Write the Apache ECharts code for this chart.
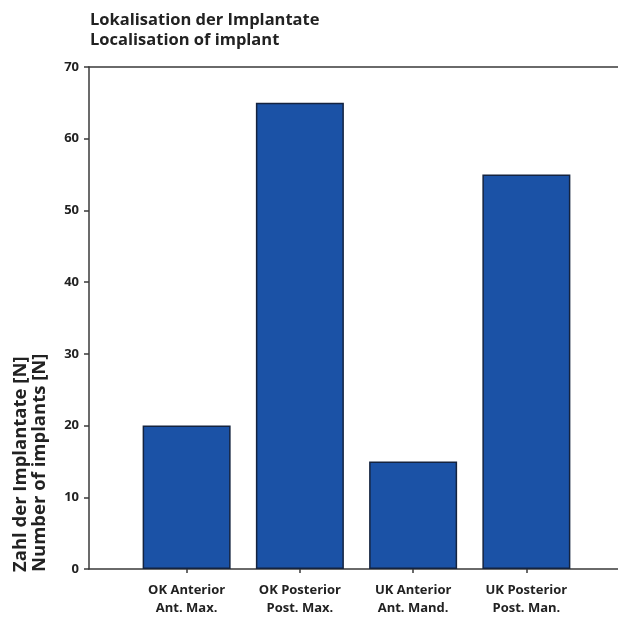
<!DOCTYPE html>
<html>
<head>
<meta charset="utf-8">
<script src="https://cdn.jsdelivr.net/npm/echarts@6/dist/echarts.min.js"></script>
<style>
  html, body { margin: 0; padding: 0; background: #fff; }
  #chart { width: 618px; height: 617px; }
</style>
</head>
<body>
<div id="chart"></div>
<script>
// Kategorien und Werte
const categories = [
  'OK Anterior\nAnt. Max.',
  'OK Posterior\nPost. Max.',
  'UK Anterior\nAnt. Mand.',
  'UK Posterior\nPost. Man.'
]
const implantCounts = [20, 65, 15, 55]
const yMin = 0
const yMax = 70
const yStep = 10

const font = '"Open Sans", "DejaVu Sans", sans-serif'
const lineColor = '#3a3a3a'

const chart = echarts.init(document.getElementById('chart'))

const option = {
  backgroundColor: '#fff',
  animation: false,
  title: {
    text: 'Lokalisation der Implantate\nLocalisation of implant',
    left: 85,
    top: 5,
    textStyle: {
      fontFamily: font,
      fontWeight: 'bold',
      fontSize: 16.5,
      lineHeight: 20,
      color: '#222'
    }
  },
  // grid 0: bars, grid 1: frame + y axis
  grid: [
    { left: 130, right: 35, top: 67, bottom: 48 },
    { left: 89, right: 0, top: 67, bottom: 48 }
  ],
  xAxis: [
    {
      gridIndex: 0,
      type: 'category',
      data: categories,
      axisLine: { show: false },
      axisTick: {
        show: true,
        alignWithLabel: true,
        length: 4,
        lineStyle: { color: lineColor, width: 1.5 }
      },
      axisLabel: {
        fontFamily: font,
        fontWeight: 'bold',
        fontSize: 13,
        lineHeight: 18,
        color: '#222',
        margin: 12
      }
    },
    {
      gridIndex: 1,
      type: 'value',
      min: 0,
      max: 1,
      position: 'bottom',
      axisLine: { show: true, lineStyle: { color: lineColor, width: 1.5 } },
      axisTick: { show: false },
      axisLabel: { show: false },
      splitLine: { show: false }
    },
    {
      gridIndex: 1,
      type: 'value',
      min: 0,
      max: 1,
      position: 'top',
      axisLine: { show: true, lineStyle: { color: lineColor, width: 1.5 } },
      axisTick: { show: false },
      axisLabel: { show: false },
      splitLine: { show: false }
    }
  ],
  yAxis: [
    {
      gridIndex: 0,
      type: 'value',
      min: yMin,
      max: yMax,
      interval: yStep,
      show: false
    },
    {
      gridIndex: 1,
      type: 'value',
      min: yMin,
      max: yMax,
      interval: yStep,
      axisLine: { show: true, lineStyle: { color: lineColor, width: 1.5 } },
      axisTick: { show: true, length: 5, lineStyle: { color: lineColor, width: 1.5 } },
      axisLabel: {
        fontFamily: font,
        fontWeight: 'bold',
        fontSize: 13,
        color: '#222',
        margin: 10
      },
      splitLine: { show: false }
    }
  ],
  graphic: [
    {
      type: 'text',
      x: 11,
      y: 572,
      rotation: Math.PI / 2,
      style: {
        text: 'Zahl der Implantate [N]\nNumber of implants [N]',
        font: 'bold 18.5px ' + font,
        lineHeight: 19,
        fill: '#222',
        textAlign: 'left',
        textVerticalAlign: 'top'
      }
    }
  ],
  series: [
    {
      type: 'bar',
      xAxisIndex: 0,
      yAxisIndex: 0,
      data: implantCounts,
      barWidth: 88,
      itemStyle: {
        color: '#1b52a6',
        borderColor: '#14233f',
        borderWidth: 1.5
      }
    }
  ]
}

chart.setOption(option)
</script>
</body>
</html>
